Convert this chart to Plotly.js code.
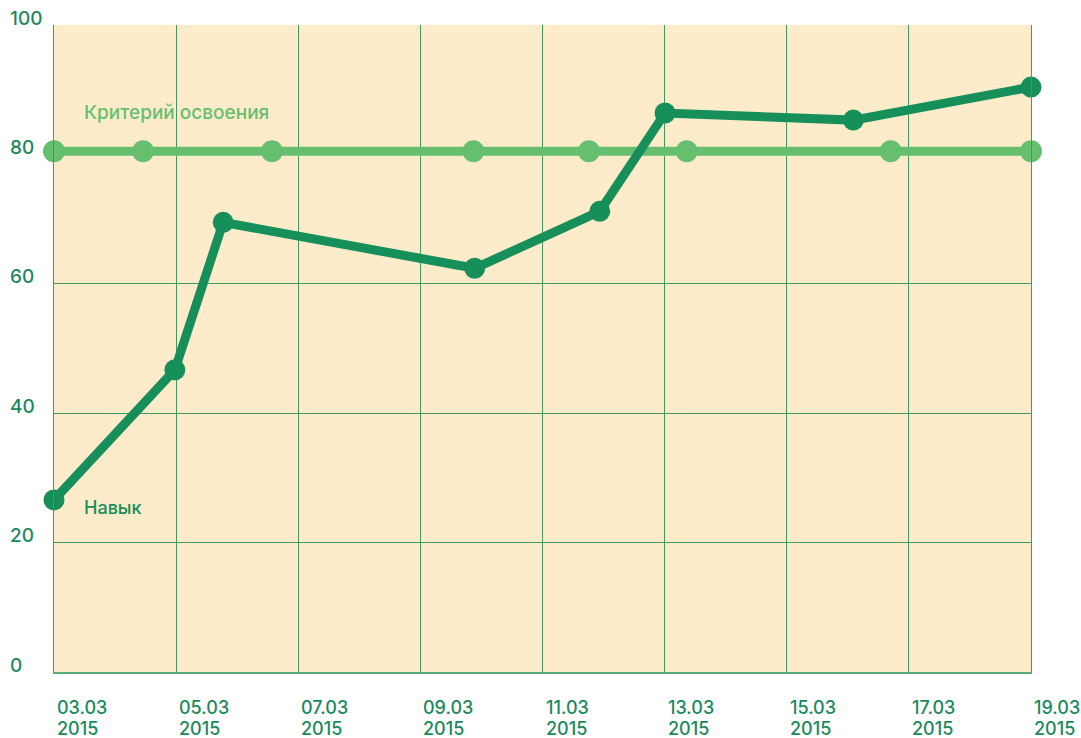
<!DOCTYPE html>
<html>
<head>
<meta charset="utf-8">
<script src="https://cdn.plot.ly/plotly-3.0.1.min.js"></script>
<style>html,body{margin:0;padding:0;background:#fff;}#chart{width:1081px;height:738px;}</style>
</head>
<body>
<div id="chart"></div>
<script>
// Data
var skillDates = ["2015-03-03 00:00", "2015-03-04 23:30", "2015-03-05 18:30", "2015-03-09 21:20", "2015-03-11 22:30", "2015-03-13 00:10", "2015-03-16 02:10", "2015-03-19 00:00"];
var skillValues = [26.6, 46.7, 69.5, 62.4, 71.2, 86.4, 85.3, 90.4];
var criterionDates = ["2015-03-03 00:00", "2015-03-04 11:00", "2015-03-06 13:40", "2015-03-09 20:50", "2015-03-11 18:15", "2015-03-13 08:40", "2015-03-16 16:50", "2015-03-19 00:00"];
var criterionValues = [80.5, 80.5, 80.5, 80.5, 80.5, 80.5, 80.5, 80.5];
var xTickVals = ["2015-03-03", "2015-03-05", "2015-03-07", "2015-03-09", "2015-03-11", "2015-03-13", "2015-03-15", "2015-03-17", "2015-03-19"];
var xTickLabels = ["03.03<br>2015", "05.03<br>2015", "07.03<br>2015", "09.03<br>2015", "11.03<br>2015", "13.03<br>2015", "15.03<br>2015", "17.03<br>2015", "19.03<br>2015"];
var yTickVals = [0, 20, 40, 60, 80, 100];
var yTickLabels = ["0", "20", "40", "60", "80", "100"];
var skillName = "Навык";
var criterionName = "Критерий освоения";

var FONT = "Inter, Open Sans, sans-serif";
var textColor = "#1a8a5c";
var skillColor = "#168f5b";
var critColor = "#66bf6e";

var traces = [
  {
    x: criterionDates, y: criterionValues, type: "scatter", mode: "lines+markers",
    name: criterionName, cliponaxis: false,
    line: {color: critColor, width: 9},
    marker: {color: critColor, size: 22},
    hoverinfo: "skip"
  },
  {
    x: skillDates, y: skillValues, type: "scatter", mode: "lines+markers",
    name: skillName, cliponaxis: false,
    line: {color: skillColor, width: 9},
    marker: {color: skillColor, size: 21},
    hoverinfo: "skip"
  }
];

var annotations = [];
xTickVals.forEach(function (v, i) {
  var lines = xTickLabels[i].split("<br>");
  lines.forEach(function (ln, j) {
    annotations.push({
      x: v, xref: "x", y: 0, yref: "paper", xanchor: "left", yanchor: "middle",
      xshift: 2, yshift: -35 - 21 * j, align: "left", showarrow: false, borderpad: 0,
      text: ln, font: {family: FONT, size: 18, weight: 500, color: textColor}
    });
  });
});
yTickVals.forEach(function (v, i) {
  annotations.push({
    x: 0, xref: "paper", y: v, yref: "y", xanchor: "left", yanchor: "middle",
    xshift: -46, yshift: 7, align: "left", showarrow: false,
    text: yTickLabels[i], font: {family: FONT, size: 19, weight: 500, color: textColor}
  });
});
annotations.push({
  x: "2015-03-03 11:00", xref: "x", y: 86.5, yref: "y", xanchor: "left", yanchor: "middle",
  showarrow: false, text: criterionName, font: {family: FONT, size: 19, weight: 500, color: critColor}
});
annotations.push({
  x: "2015-03-03 11:00", xref: "x", y: 25.4, yref: "y", xanchor: "left", yanchor: "middle",
  showarrow: false, text: skillName, font: {family: FONT, size: 18, weight: 500, color: skillColor}
});

var layout = {
  width: 1081, height: 738,
  margin: {l: 54, r: 50, t: 25, b: 66},
  paper_bgcolor: "#ffffff",
  plot_bgcolor: "#fdebca",
  showlegend: false,
  xaxis: {
    type: "date",
    range: ["2015-03-03", "2015-03-19"],
    tickvals: xTickVals,
    showticklabels: false,
    showgrid: true, gridcolor: "#3f9b66", gridwidth: 1,
    zeroline: false,
    showline: true, linecolor: "#5aaa78", linewidth: 2, mirror: false,
    ticks: "", fixedrange: true
  },
  yaxis: {
    range: [0, 100],
    tickvals: yTickVals,
    showticklabels: false,
    showgrid: true, gridcolor: "#3f9b66", gridwidth: 1,
    zeroline: false,
    showline: true, linecolor: "#3f9b66", linewidth: 1, mirror: true,
    ticks: "", fixedrange: true
  },
  annotations: annotations,
  font: {family: FONT, color: textColor}
};

Plotly.newPlot("chart", traces, layout, {displayModeBar: false, staticPlot: true});
</script>
</body>
</html>
